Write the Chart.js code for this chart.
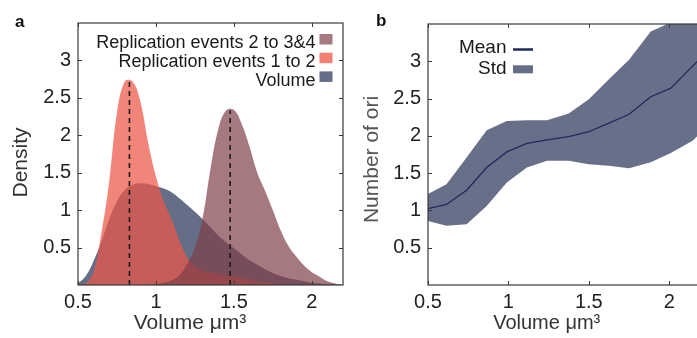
<!DOCTYPE html>
<html lang="en">
<head>
<meta charset="UTF-8" />
<title>Volume density and number of ori</title>
<script src="https://cdn.jsdelivr.net/npm/chart.js"></script>
<style>
  html, body { margin: 0; padding: 0; background: #fff; overflow: hidden; }
  body { width: 697px; height: 338px; position: relative; font-family: 'Liberation Sans', Arial, sans-serif; }
  .panel { position: absolute; top: 0; height: 338px; }
  #panelA { left: 0; width: 350px; }
  #panelB { left: 350px; width: 360px; }
  .tag { position: absolute; font-weight: bold; font-size: 17px; line-height: 17px; color: #111; }
</style>
</head>
<body>

<div class="panel" id="panelA"><canvas id="densityCanvas" width="350" height="338"></canvas></div>
<div class="panel" id="panelB"><canvas id="oriCanvas" width="360" height="338"></canvas></div>
<div class="tag" style="left:15px; top:13px">a</div>
<div class="tag" style="left:376px; top:12px">b</div>

<script>
  // panel a: density of cell volume
  const volumeGrid     = [0.5, 0.55, 0.6, 0.65, 0.7, 0.75, 0.8, 0.85, 0.9, 0.95, 1.0, 1.05, 1.1, 1.15, 1.2, 1.25, 1.3, 1.35, 1.4, 1.45, 1.5, 1.55, 1.6, 1.65, 1.7, 1.75, 1.8, 1.85, 1.9, 1.95, 2.0, 2.05, 2.1, 2.15, 2.2];
  const volumeDensity  = [0.02, 0.12, 0.32, 0.58, 0.88, 1.12, 1.27, 1.34, 1.36, 1.35, 1.32, 1.29, 1.24, 1.16, 1.07, 0.98, 0.88, 0.77, 0.66, 0.57, 0.49, 0.41, 0.33, 0.27, 0.21, 0.16, 0.12, 0.09, 0.07, 0.05, 0.03, 0.02, 0.01, 0.005, 0];
  const rep12Density   = [0, 0.02, 0.18, 0.69, 1.38, 2.3, 2.72, 2.72, 2.45, 1.9, 1.45, 1.12, 0.88, 0.6, 0.37, 0.25, 0.19, 0.17, 0.15, 0.13, 0.11, 0.09, 0.07, 0.05, 0.035, 0.02, 0.01, 0.005, 0, 0, 0, 0, 0, 0, 0];
  const rep234Density  = [0, 0, 0, 0, 0, 0, 0, 0, 0, 0.005, 0.01, 0.03, 0.06, 0.13, 0.28, 0.5, 0.9, 1.55, 2.08, 2.33, 2.34, 2.15, 1.85, 1.5, 1.26, 1.0, 0.73, 0.52, 0.38, 0.26, 0.17, 0.11, 0.05, 0.02, 0];
  const medianVolumes  = [0.83, 1.476];
  const medianHeights  = [2.76, 2.33];
  const densityLabels  = ['Replication events 2 to 3&4', 'Replication events 1 to 2', 'Volume'];

  // panel b: number of ori against volume
  const oriVolume = [0.49, 0.615, 0.74, 0.865, 0.99, 1.115, 1.24, 1.375, 1.5, 1.625, 1.75, 1.885, 2.01, 2.145, 2.27];
  const oriMean   = [1.02, 1.08, 1.27, 1.575, 1.785, 1.9, 1.945, 1.99, 2.055, 2.17, 2.29, 2.525, 2.64, 2.935, 3.2];
  const oriUpper  = [1.21, 1.35, 1.71, 2.075, 2.2, 2.21, 2.21, 2.3, 2.49, 2.76, 3.02, 3.4, 3.52, 3.7, 3.9];
  const oriLower  = [0.865, 0.795, 0.815, 1.06, 1.375, 1.575, 1.665, 1.665, 1.62, 1.6, 1.565, 1.645, 1.77, 1.935, 2.2];
  const oriLabels = ['Mean', 'Std'];

  const volumeTicks = [0.5, 1, 1.5, 2];
  const yTicks = [0.5, 1, 1.5, 2, 2.5, 3];
  const volumeTitle = 'Volume \u03bcm\u00b3';

  const FONT = "'Liberation Sans', Arial, sans-serif";
  const pts = (xs, ys) => xs.map((x, i) => ({ x: x, y: ys[i] }));

  // solid versions for the legend swatches
  const PINK = 'rgb(166,120,127)', SALMON = 'rgb(242,128,116)', SLATE = 'rgb(100,110,135)';

  // box round the plot with short inward ticks on every side
  const frameTicks = {
    id: 'frameTicks',
    afterDraw(chart) {
      const { ctx, chartArea: a, scales } = chart;
      ctx.save();
      ctx.strokeStyle = '#3a3a3a';
      ctx.lineWidth = 1.2;
      ctx.strokeRect(a.left, a.top, a.right - a.left, a.bottom - a.top);
      ctx.lineWidth = 1;
      ctx.beginPath();
      volumeTicks.forEach(v => {
        const x = Math.round(scales.x.getPixelForValue(v)) + 0.5;
        ctx.moveTo(x, a.bottom); ctx.lineTo(x, a.bottom - 4);
        ctx.moveTo(x, a.top); ctx.lineTo(x, a.top + 4);
      });
      yTicks.forEach(v => {
        const y = Math.round(scales.y.getPixelForValue(v)) + 0.5;
        ctx.moveTo(a.left, y); ctx.lineTo(a.left + 4, y);
        ctx.moveTo(a.right, y); ctx.lineTo(a.right - 4, y);
      });
      ctx.stroke();
      ctx.restore();
    }
  };

  function drawTitles(ctx, yText, yColor, yBase, yCenter, xCenter, xSize) {
    ctx.save();
    ctx.textAlign = 'center';
    ctx.textBaseline = 'alphabetic';
    ctx.fillStyle = '#333';
    ctx.font = xSize + 'px ' + FONT;
    ctx.fillText(volumeTitle, xCenter, 328.5);
    ctx.fillStyle = yColor;
    ctx.font = '21px ' + FONT;
    ctx.translate(yBase, yCenter);
    ctx.rotate(-Math.PI / 2);
    ctx.fillText(yText, 0, 0);
    ctx.restore();
  }

  function makeScales(xMax) {
    const tickFont = { family: FONT, size: 20 };
    return {
      x: {
        type: 'linear', min: 0.5, max: xMax,
        grid: { display: false, drawTicks: false }, border: { display: false },
        afterBuildTicks: s => { s.ticks = volumeTicks.map(v => ({ value: v })); },
        afterFit: s => { s.height = 53; },
        ticks: { color: '#222', font: tickFont, padding: 5, maxRotation: 0, autoSkip: false, callback: v => String(v) }
      },
      y: {
        type: 'linear', min: 0, max: 3.5,
        grid: { display: false, drawTicks: false }, border: { display: false },
        afterBuildTicks: s => { s.ticks = yTicks.map(v => ({ value: v })); },
        afterFit: s => { s.width = 78; },
        ticks: { color: '#222', font: tickFont, padding: 7, autoSkip: false, callback: v => String(v) }
      }
    };
  }

  // ---------- panel a ----------
  const densityLegend = {
    id: 'densityLegend',
    afterDraw(chart) {
      const ctx = chart.ctx;
      drawTitles(ctx, 'Density', '#333', 26.7, 162.5, 190, 21);
      ctx.save();
      ctx.font = '18px ' + FONT;
      ctx.textAlign = 'right';
      ctx.textBaseline = 'alphabetic';
      const swatches = [PINK, SALMON, SLATE];
      densityLabels.forEach((label, i) => {
        const base = 48.3 + i * 18.7;
        ctx.fillStyle = '#1a1a1a';
        ctx.fillText(label, 315.5, base);
        ctx.fillStyle = swatches[i];
        ctx.fillRect(319.5, base - 14.3, 13, 10.5);
      });
      ctx.restore();
    }
  };

  const medianLine = i => ({
    data: [{ x: medianVolumes[i], y: 0 }, { x: medianVolumes[i], y: medianHeights[i] }],
    borderColor: '#1a1a1a', borderWidth: 1.6, borderDash: [5, 4], pointRadius: 0, fill: false
  });

  new Chart(document.getElementById('densityCanvas'), {
    type: 'line',
    data: {
      datasets: [
        medianLine(0),
        medianLine(1),
        { label: densityLabels[0], data: pts(volumeGrid, rep234Density), fill: 'origin',
          backgroundColor: 'rgba(128,62,72,0.7)', borderWidth: 0, pointRadius: 0, tension: 0.4 },
        { label: densityLabels[1], data: pts(volumeGrid, rep12Density), fill: 'origin',
          backgroundColor: 'rgba(236,88,72,0.73)', borderWidth: 0, pointRadius: 0, tension: 0.4 },
        { label: densityLabels[2], data: pts(volumeGrid, volumeDensity), fill: 'origin',
          backgroundColor: 'rgba(48,62,95,0.75)', borderWidth: 0, pointRadius: 0, tension: 0.4 }
      ]
    },
    options: {
      responsive: false,
      animation: false,
      layout: { padding: { left: 0, top: 23, right: 7, bottom: 0 } },
      plugins: { legend: { display: false }, tooltip: { enabled: false } },
      scales: makeScales(2.2)
    },
    plugins: [frameTicks, densityLegend]
  });

  // ---------- panel b ----------
  const oriLegend = {
    id: 'oriLegend',
    afterDraw(chart) {
      const ctx = chart.ctx;
      drawTitles(ctx, 'Number of ori', '#555', 28.3, 159.5, 196.7, 20);
      ctx.save();
      ctx.font = '19px ' + FONT;
      ctx.textAlign = 'right';
      ctx.textBaseline = 'alphabetic';
      ctx.fillStyle = '#1a1a1a';
      ctx.fillText(oriLabels[0], 156.5, 53.3);
      ctx.fillText(oriLabels[1], 156.5, 74.3);
      ctx.strokeStyle = '#1e2a5c';
      ctx.lineWidth = 2.5;
      ctx.beginPath();
      ctx.moveTo(163, 49.5); ctx.lineTo(183, 49.5);
      ctx.stroke();
      ctx.fillStyle = SLATE;
      ctx.fillRect(163, 65.3, 20, 8);
      ctx.restore();
    }
  };

  new Chart(document.getElementById('oriCanvas'), {
    type: 'line',
    data: {
      datasets: [
        { label: oriLabels[0], data: pts(oriVolume, oriMean), borderColor: '#1e2a5c', borderWidth: 1.3,
          pointRadius: 0, fill: false, tension: 0 },
        { label: oriLabels[1], data: pts(oriVolume, oriUpper), borderWidth: 0, pointRadius: 0,
          fill: '+1', backgroundColor: 'rgb(104,112,137)', tension: 0 },
        { label: 'lower', data: pts(oriVolume, oriLower), borderWidth: 0, pointRadius: 0, fill: false, tension: 0 }
      ]
    },
    options: {
      responsive: false,
      animation: false,
      layout: { padding: { left: 0, top: 24, right: 8.6, bottom: 0 } },
      plugins: { legend: { display: false }, tooltip: { enabled: false } },
      scales: makeScales(2.2)
    },
    plugins: [frameTicks, oriLegend]
  });
</script>
</body>
</html>
